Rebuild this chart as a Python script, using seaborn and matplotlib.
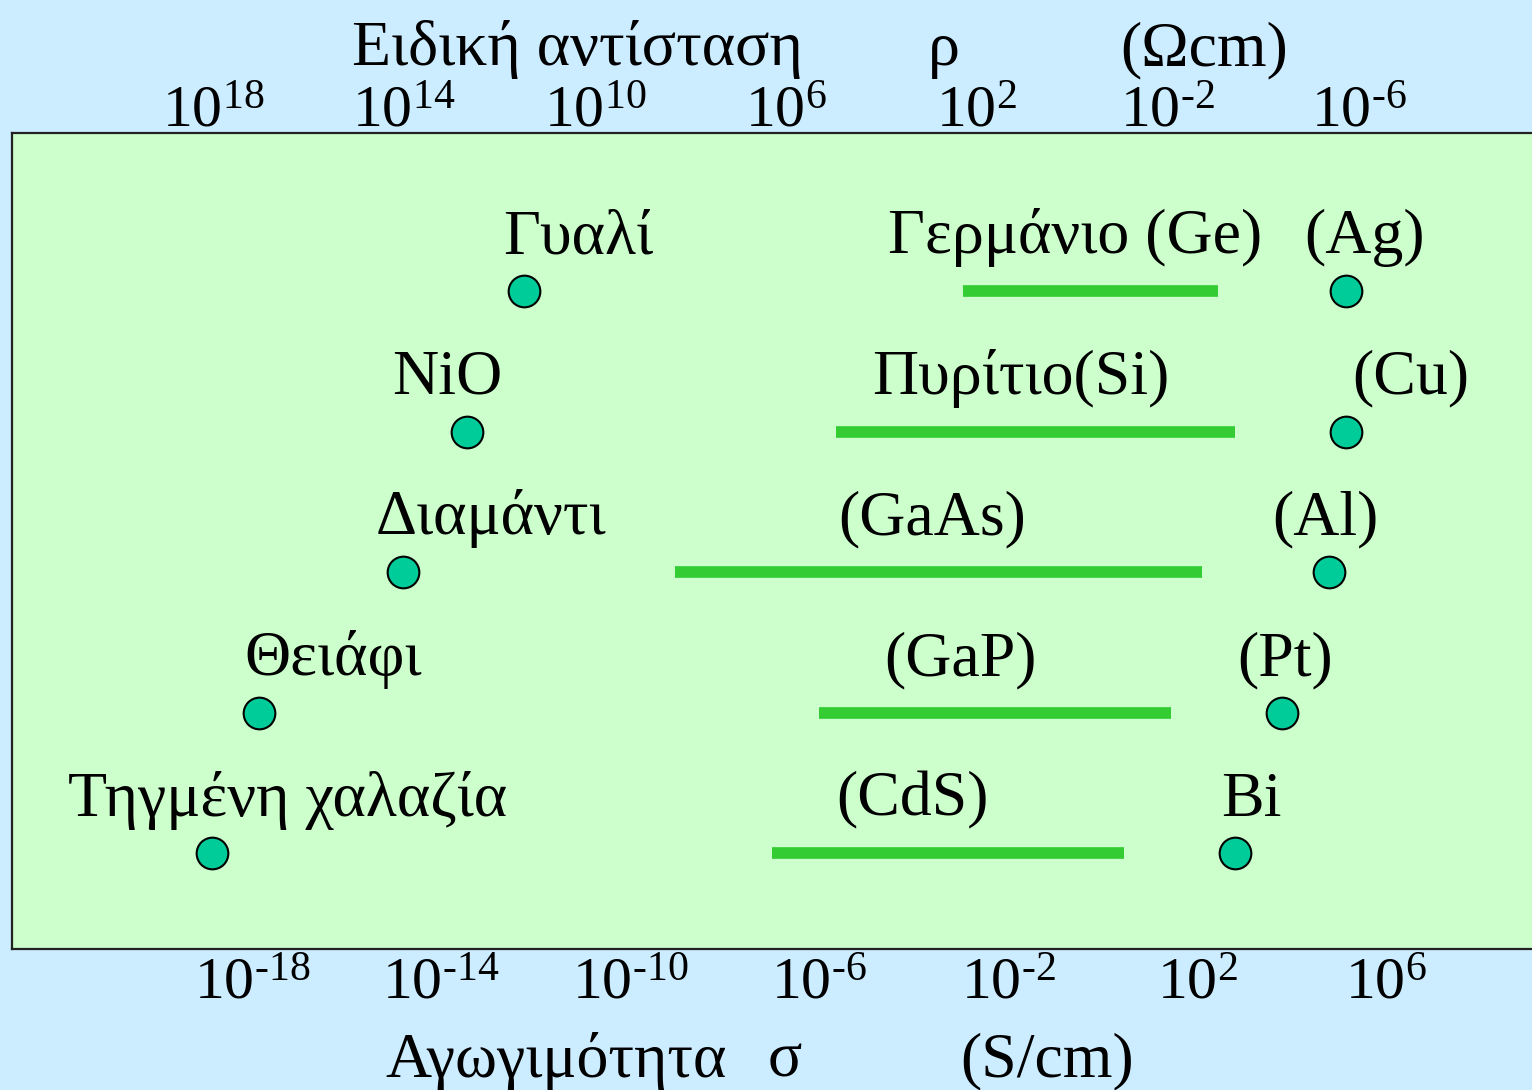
import numpy as np
import pandas as pd
import matplotlib
matplotlib.use("Agg")
import matplotlib.pyplot as plt
import seaborn as sns

# Row order (top to bottom) shared by the three material groups
rows = [0, 1, 2, 3, 4]

# Insulators: log10 of conductivity (S/cm)
insulators = ["Γυαλί", "NiO", "Διαμάντι", "Θειάφι", "Τηγμένη χαλαζία"]
insulator_logsigma = [-12.25, -13.45, -14.8, -17.85, -18.85]

# Metals: log10 of conductivity (S/cm)
metals = ["(Ag)", "(Cu)", "(Al)", "(Pt)", "Bi"]
metal_logsigma = [5.15, 5.15, 4.8, 3.8, 2.8]

# Semiconductors: conductivity ranges, log10 (S/cm)
semiconductors = ["Γερμάνιο (Ge)", "Πυρίτιο(Si)", "(GaAs)", "(GaP)", "(CdS)"]
semi_low = [-2.95, -5.65, -9.05, -6.0, -7.0]
semi_high = [2.45, 2.8, 2.1, 1.45, 0.45]

# Axis ticks (decades)
sigma_ticks = [-18, -14, -10, -6, -2, 2, 6]
rho_ticks = [18, 14, 10, 6, 2, -2, -6]

# Left edge of each name, in log10(sigma) units
insulator_label_x = [-12.69, -15.04, -15.38, -18.17, -21.89]
metal_label_x = [4.26, 5.28, 3.59, 2.85, 2.5]
semi_label_x = [-4.54, -4.88, -5.6, -4.62, -5.64]

sns.set_theme(style="white")
plt.rcParams["font.family"] = ["Liberation Serif", "DejaVu Serif"]
plt.rcParams["text.color"] = "black"
plt.rcParams["mathtext.fontset"] = "custom"
plt.rcParams["mathtext.rm"] = "Liberation Serif"
plt.rcParams["mathtext.it"] = "Liberation Serif:italic"
plt.rcParams["mathtext.bf"] = "Liberation Serif:bold"

BG = "#CCECFF"
PANEL = "#CCFFCC"
DOT = "#00CC99"
BAR = "#33CC33"

fig = plt.figure(figsize=(15.32, 10.9), dpi=100, facecolor=BG)
ax = fig.add_axes([12 / 1532, 141 / 1090, 1 - 12 / 1532 + 0.01, 816 / 1090])
ax.set_facecolor(PANEL)


def power_label(e):
    s = str(e).replace("-", "\u2010")
    return rf"$\mathrm{{10^{{{s}}}}}$"


# Semiconductor ranges
lc = ax.hlines(rows, semi_low, semi_high, color=BAR, linewidth=8.4, zorder=2)
lc.set_capstyle("butt")

# Insulators and metals as dots
points = pd.DataFrame({
    "logsigma": insulator_logsigma + metal_logsigma,
    "row": rows + rows,
})
sns.scatterplot(data=points, x="logsigma", y="row", s=520, color=DOT,
                edgecolor="black", linewidth=1.5, ax=ax, zorder=3, legend=False)

label_dy = 0.27
for names, xs in ((insulators, insulator_label_x),
                  (metals, metal_label_x),
                  (semiconductors, semi_label_x)):
    for name, lx, r in zip(names, xs, rows):
        ax.text(lx, r - label_dy, name, fontsize=46, ha="left", va="baseline",
                color="black")

ax.set_xlim(-23.08, 9.09 + 0.01 * 1532 / 47.25)
ax.set_ylim(4.68, -1.127)
ax.set_yticks([])
ax.set_xlabel("")
ax.set_ylabel("")

ax.set_xticks(sigma_ticks)
ax.set_xticklabels([power_label(t) for t in sigma_ticks])
ax.tick_params(axis="x", bottom=True, length=0, pad=6, labelsize=43,
               labelcolor="black")

for side in ("left", "top", "bottom"):
    ax.spines[side].set_visible(True)
    ax.spines[side].set_color("#222222")
    ax.spines[side].set_linewidth(1.6)
ax.spines["right"].set_visible(False)

# Resistivity scale along the top
sec = ax.secondary_xaxis("top", functions=(lambda s: -(s + 0.64) / 1.01,
                                           lambda r: -1.01 * r - 0.64))
sec.set_xticks(rho_ticks)
sec.set_xticklabels([power_label(t) for t in rho_ticks])
sec.tick_params(axis="x", length=0, pad=-5, labelsize=43, labelcolor="black")
for sp in sec.spines.values():
    sp.set_visible(False)

# Axis titles
fig.text(352 / 1532, 0.940, "Ειδική αντίσταση", fontsize=46, ha="left",
         va="baseline")
fig.text(928 / 1532, 0.940, "ρ", fontsize=46, ha="left", va="baseline")
fig.text(1120 / 1532, 0.940, "(Ωcm)", fontsize=46, ha="left", va="baseline")
fig.text(385 / 1532, 0.012, "Αγωγιμότητα", fontsize=46, ha="left",
         va="baseline")
fig.text(768 / 1532, 0.012, "σ", fontsize=46, ha="left", va="baseline")
fig.text(960 / 1532, 0.012, "(S/cm)", fontsize=46, ha="left", va="baseline")

fig.savefig("out.png", dpi=100, facecolor=BG)
